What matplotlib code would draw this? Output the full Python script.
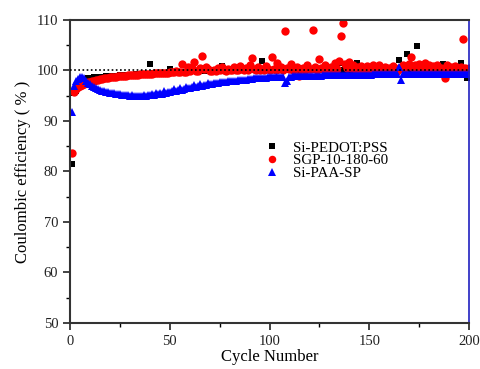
import numpy as np
import matplotlib
matplotlib.use('Agg')
import matplotlib.pyplot as plt
from matplotlib.ticker import MultipleLocator

plt.rcParams['font.family'] = ['Liberation Serif', 'DejaVu Serif']

cycles = np.arange(1, 201)

pedot = [81.4, 95.6, 96.0, 96.6, 97.4, 97.9, 98.2, 98.3, 98.4, 98.5,
         98.5, 98.6, 98.6, 98.6, 98.7, 98.7, 98.7, 98.8, 98.8, 98.8,
         98.8, 98.9, 98.9, 98.9, 99.0, 99.0, 99.0, 99.0, 99.1, 99.1,
         99.1, 99.1, 99.2, 99.2, 99.2, 99.2, 99.3, 99.3, 99.3, 101.2,
         99.3, 99.4, 99.4, 99.4, 99.4, 99.5, 99.5, 99.5, 99.5, 100.2,
         99.6, 99.6, 99.6, 99.6, 99.7, 99.7, 99.7, 99.7, 99.8, 99.8,
         99.8, 99.8, 99.9, 99.9, 99.9, 99.9, 100.5, 99.9, 99.9, 100.0,
         100.0, 100.0, 100.0, 100.0, 100.0, 100.8, 100.0, 100.0, 100.0, 100.0,
         100.0, 100.0, 100.0, 100.0, 100.0, 100.5, 100.0, 100.0, 100.0, 100.0,
         100.0, 100.0, 100.0, 100.0, 100.0, 101.8, 100.0, 100.0, 100.0, 100.0,
         100.0, 100.1, 100.0, 100.2, 100.0, 100.0, 100.3, 100.0, 100.1, 100.0,
         100.0, 100.2, 100.0, 100.0, 100.4, 100.0, 100.1, 100.0, 100.0, 100.2,
         100.0, 100.0, 100.3, 100.0, 100.0, 100.1, 100.0, 100.5, 100.0, 100.0,
         100.0, 100.2, 100.0, 100.0, 101.5, 100.0, 100.1, 100.0, 100.0, 100.3,
         100.0, 100.0, 100.4, 101.5, 100.0, 100.1, 100.0, 100.0, 100.2, 100.0,
         100.0, 100.1, 100.0, 100.3, 100.0, 100.0, 100.2, 100.0, 100.0, 100.1,
         100.0, 100.0, 100.2, 100.0, 102.1, 100.0, 100.1, 100.0, 103.3, 100.0,
         100.0, 100.2, 100.0, 104.9, 100.0, 100.1, 100.0, 100.0, 100.3, 100.0,
         100.0, 100.1, 100.0, 100.0, 100.2, 100.0, 101.2, 100.0, 100.0, 100.1,
         100.0, 100.0, 100.2, 100.0, 100.0, 101.5, 100.0, 100.0, 98.4, 100.0]

sgp = [83.6, 95.8, 96.3, 96.7, 97.0, 97.2, 97.4, 97.6, 97.7, 97.8,
       97.9, 98.0, 98.1, 98.2, 98.3, 98.3, 98.4, 98.5, 98.5, 98.6,
       98.6, 98.7, 98.7, 98.8, 98.8, 98.9, 98.9, 98.9, 99.0, 99.0,
       99.0, 99.1, 99.1, 99.1, 99.2, 99.2, 99.2, 99.3, 99.3, 99.3,
       99.3, 99.4, 99.4, 99.4, 99.4, 99.5, 99.5, 99.5, 99.5, 99.6,
       99.6, 99.6, 99.8, 99.6, 99.7, 101.2, 99.7, 99.7, 100.7, 99.8,
       100.5, 101.6, 99.8, 99.9, 100.5, 102.8, 100.3, 100.6, 100.2, 99.9,
       99.9, 100.1, 99.9, 100.4, 100.0, 100.6, 100.0, 99.9, 100.3, 100.0,
       100.0, 100.6, 100.1, 100.0, 100.8, 100.2, 100.0, 100.5, 100.1, 101.0,
       102.5, 100.2, 100.0, 100.6, 100.1, 100.3, 100.0, 100.8, 100.2, 100.0,
       102.6, 100.3, 100.1, 101.5, 100.2, 100.7, 100.0, 107.8, 100.4, 100.2,
       101.2, 100.1, 100.3, 100.6, 98.9, 100.2, 100.5, 100.1, 101.0, 100.3,
       100.2, 108.0, 100.6, 100.1, 102.3, 100.4, 100.2, 101.0, 100.3, 100.1,
       100.6, 100.2, 101.5, 100.3, 101.8, 106.9, 109.4, 101.2, 100.4, 101.6,
       100.5, 101.0, 100.2, 100.7, 100.3, 100.9, 100.2, 100.5, 100.8, 100.3,
       100.6, 101.0, 100.2, 100.5, 101.1, 100.4, 100.2, 100.7, 100.3, 100.5,
       100.2, 100.9, 100.4, 99.8, 100.3, 100.6, 101.1, 100.4, 100.8, 101.2,
       102.6, 100.5, 101.0, 100.4, 101.3, 100.6, 100.3, 101.4, 100.5, 101.0,
       100.4, 100.8, 100.3, 101.1, 100.5, 100.4, 100.3, 98.4, 101.0, 100.4,
       100.7, 100.3, 100.9, 100.5, 100.4, 100.6, 106.3, 100.5, 100.3, 100.5]

paa = [91.7, 97.0, 97.9, 98.3, 98.6, 98.6, 98.4, 98.0, 97.6, 97.3,
       97.0, 96.8, 96.6, 96.4, 96.2, 96.0, 95.9, 95.8, 95.7, 95.6,
       95.5, 95.5, 95.4, 95.3, 95.3, 95.2, 95.2, 95.1, 95.1, 95.0,
       95.1, 95.0, 94.9, 95.0, 95.0, 94.9, 95.1, 95.0, 95.2, 95.1,
       95.3, 95.2, 95.6, 95.3, 95.5, 95.4, 95.9, 95.5, 95.7, 95.8,
       95.9, 96.3, 96.0, 96.1, 96.5, 96.2, 96.4, 96.8, 96.5, 96.6,
       96.7, 97.1, 96.8, 96.9, 97.3, 97.0, 97.1, 97.2, 97.5, 97.3,
       97.4, 97.5, 97.6, 97.5, 97.7, 97.7, 97.8, 97.8, 97.9, 97.9,
       98.0, 98.0, 98.0, 98.1, 98.1, 98.2, 98.2, 98.2, 98.3, 98.3,
       98.3, 98.4, 98.4, 98.4, 98.5, 98.5, 98.5, 98.5, 98.6, 98.6,
       98.6, 98.6, 98.6, 98.7, 98.7, 98.7, 98.7, 97.6, 97.9, 98.7,
       98.7, 98.8, 98.8, 98.8, 98.8, 98.8, 98.8, 98.8, 98.9, 98.9,
       98.9, 98.9, 98.9, 98.9, 98.9, 98.9, 99.0, 99.0, 99.0, 99.0,
       99.0, 99.0, 99.0, 99.0, 99.0, 99.0, 99.0, 99.1, 99.1, 99.1,
       99.1, 99.1, 99.1, 99.1, 99.1, 99.1, 99.1, 99.1, 99.1, 99.1,
       99.1, 99.2, 99.2, 99.2, 99.2, 99.2, 99.2, 99.2, 99.2, 99.2,
       99.2, 99.2, 99.2, 99.2, 100.7, 98.2, 99.2, 99.2, 99.2, 99.2,
       99.2, 99.3, 99.3, 99.3, 99.3, 99.3, 99.3, 99.3, 99.3, 99.3,
       99.3, 99.3, 99.3, 99.3, 99.3, 99.3, 99.3, 99.3, 99.3, 99.3,
       99.3, 99.3, 99.3, 99.3, 99.3, 99.3, 99.3, 99.3, 99.3, 99.3]

fig = plt.figure(figsize=(4.8, 3.69), dpi=100)
ax = fig.add_axes([0.146, 0.125, 0.831, 0.821])

ax.plot(cycles, pedot, 's', color='black', ms=4.8, mew=0, label='Si-PEDOT:PSS')
ax.plot(cycles, sgp, 'o', color='red', ms=6.0, mew=0, label='SGP-10-180-60')
ax.plot(cycles, paa, '^', color='blue', ms=6.2, mew=0, label='Si-PAA-SP')
ax.axhline(100, color='black', ls=(0, (1, 1.5)), lw=1.2, zorder=5)

ax.set_xlim(0, 200)
ax.set_ylim(50, 110)
ax.xaxis.set_major_locator(MultipleLocator(50))
ax.xaxis.set_minor_locator(MultipleLocator(25))
ax.yaxis.set_major_locator(MultipleLocator(10))
ax.yaxis.set_minor_locator(MultipleLocator(5))
ax.tick_params(which='major', direction='out', length=5, width=1.2, labelsize=10.5, colors='#222222')
ax.tick_params(which='minor', direction='out', length=3, width=1.0)
ax.tick_params(top=False, right=False)

for s in ['left', 'bottom', 'top']:
    ax.spines[s].set_linewidth(1.5)
    ax.spines[s].set_color('#333333')
ax.spines['right'].set_color('#2020c0')
ax.spines['right'].set_linewidth(1.2)

ax.set_xlabel('Cycle Number', fontsize=12, labelpad=1)
ax.set_ylabel('Coulombic efficiency ( % )', fontsize=12, labelpad=4)

ax.legend(loc='upper left', bbox_to_anchor=(0.465, 0.625), frameon=False,
          fontsize=10.8, handlelength=1.2, handletextpad=0.8, labelspacing=-0.05,
          borderpad=0, markerscale=0.9)

fig.savefig('out.png', dpi=100)
